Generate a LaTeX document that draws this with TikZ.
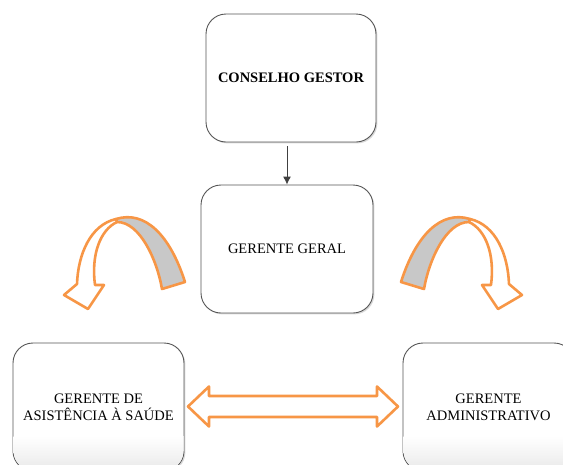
\documentclass[tikz,border=0pt]{standalone}
\usepackage{fontspec}
\setmainfont{Liberation Serif}
\usetikzlibrary{shadows,calc,arrows.meta}
\definecolor{boxline}{RGB}{85,85,85}
\definecolor{arroworange}{RGB}{247,150,70}
\definecolor{bandgray}{RGB}{200,200,200}
\definecolor{linkgray}{RGB}{64,64,64}
\tikzset{
  orgbox/.style={draw=boxline, line width=0.9pt, fill=white, rounded corners=20pt,
    minimum width=171pt, minimum height=128pt, align=center, inner sep=2pt,
    font=\fontsize{14.5}{17}\selectfont,
    drop shadow={shadow xshift=1.4pt, shadow yshift=-1.4pt, opacity=.3, fill=gray}},
  blockarrow/.style={draw=arroworange, line width=2.6pt, line join=round, fill=white},
  backband/.style={blockarrow, fill=bandgray},
  link/.style={draw=linkgray, line width=0.9pt, -{Latex[length=8pt,width=8pt]}},
}
\begin{document}
\begin{tikzpicture}[x=1pt, y=-1pt]
  \useasboundingbox (0,0) rectangle (563,464);
  \clip (0,0) rectangle (563,464);

  % boxes of the organisation chart
  \node[orgbox, minimum width=170pt, font=\fontsize{14.5}{17}\selectfont\bfseries] (cg) at (291,78) {CONSELHO GESTOR};
  \node[orgbox, minimum width=172pt] (gg) at (287,249) {GERENTE GERAL};
  \node[orgbox] (gas) at (98.5,407) {GERENTE DE\\ASISTÊNCIA À SAÚDE};
  \node[orgbox] (gad) at (488.5,407) {GERENTE\\ADMINISTRATIVO};

  % soft fade at the foot of the lower boxes
  \begin{scope}
    \clip[rounded corners=19pt] (13.5,343.5) rectangle (183.5,470);
    \shade[top color=white, bottom color=gray!14] (13,436) rectangle (184,464);
  \end{scope}
  \begin{scope}
    \clip[rounded corners=19pt] (403.5,343.5) rectangle (573.5,470);
    \shade[top color=white, bottom color=gray!14] (403,436) rectangle (574,464);
  \end{scope}

  % link between the council and the general manager
  \draw[link, shorten <=4pt] (gg.north |- cg.south) -- (gg.north);

  % curved arrow on the left, mirrored on the right
  \foreach \sx/\dx in {1/0, -1/586} {
    \begin{scope}[xshift=\dx pt, xscale=\sx]
      \path[backband] (185,282) .. controls (170,235) and (145,210) .. (116,219)
        -- (117,222) .. controls (140,222) and (157,260) .. (162,289) -- cycle;
      \path[blockarrow] (116,219) .. controls (90,225) and (78,255) .. (77,284)
        -- (64,295) -- (88,309) -- (104,285) -- (95,285)
        .. controls (91,255) and (100,230) .. (117,222) -- cycle;
    \end{scope}
  }

  % two-way arrow between the lower managers
  \path[blockarrow] (188,406.5) -- (209,386.5) -- (209,396) -- (377,396) -- (377,386.5)
    -- (398,406.5) -- (377,426.5) -- (377,417) -- (209,417) -- (209,426.5) -- cycle;
\end{tikzpicture}
\end{document}
